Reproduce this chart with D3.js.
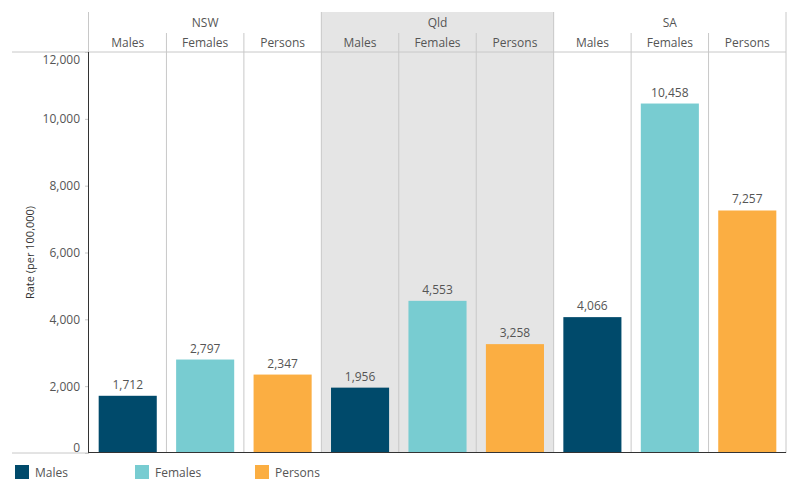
<!DOCTYPE html>
<html>
<head>
<meta charset="utf-8">
<script src="https://cdn.jsdelivr.net/npm/d3@7"></script>
<style>
  body { margin: 0; background: #fff; }
  text { font-family: "Open Sans", "Noto Sans", sans-serif; fill: #555; }
</style>
</head>
<body>
<div id="chart"></div>
<script>
var states  = ["NSW", "Qld", "SA"];
var groups  = ["Males", "Females", "Persons"];
var males   = [1712, 1956, 4066];
var females = [2797, 4553, 10458];
var persons = [2347, 3258, 7257];
var yTicks  = [0, 2000, 4000, 6000, 8000, 10000, 12000];

var W = 800, H = 500;
var left = 89, right = 786, plotTop = 52, plotBottom = 453;

var color = d3.scaleOrdinal()
    .domain(groups)
    .range(["#004a6b", "#78ccd1", "#fbae42"]);

var rows = [];
states.forEach(function (s, i) {
  rows.push({state: s, group: "Males",   value: males[i]});
  rows.push({state: s, group: "Females", value: females[i]});
  rows.push({state: s, group: "Persons", value: persons[i]});
});

var xState = d3.scaleBand().domain(states).range([left, right]);
var xGroup = d3.scaleBand().domain(groups).range([0, xState.bandwidth()]).paddingInner(0.25).paddingOuter(0.125);
var xCell  = d3.scaleBand().domain(groups).range([0, xState.bandwidth()]);

var y = d3.scaleLinear().domain([0, 12000]).range([plotBottom, plotTop]);

var svg = d3.select("#chart").append("svg")
    .attr("width", W).attr("height", H);

// Qld shading
svg.append("rect")
    .attr("x", xState("Qld")).attr("y", 12)
    .attr("width", xState.bandwidth()).attr("height", plotBottom - 12)
    .attr("fill", "#e5e5e5");

// column dividers
states.forEach(function (s) {
  groups.forEach(function (g, j) {
    if (j > 0) {
      svg.append("line")
          .attr("x1", xState(s) + xCell(g)).attr("x2", xState(s) + xCell(g))
          .attr("y1", 33).attr("y2", plotBottom)
          .attr("stroke", "#c8c8c8");
    }
  });
  svg.append("line")
      .attr("x1", xState(s) + xState.bandwidth()).attr("x2", xState(s) + xState.bandwidth())
      .attr("y1", 12).attr("y2", plotBottom)
      .attr("stroke", "#c8c8c8");
});
svg.append("line")
    .attr("x1", left - 0.5).attr("x2", left - 0.5)
    .attr("y1", 12).attr("y2", plotTop)
    .attr("stroke", "#c8c8c8");

// header lines
svg.append("line")
    .attr("x1", 12).attr("x2", right).attr("y1", plotTop).attr("y2", plotTop)
    .attr("stroke", "#c8c8c8");
svg.append("line")
    .attr("x1", 12).attr("x2", left).attr("y1", plotBottom).attr("y2", plotBottom)
    .attr("stroke", "#c8c8c8");

// header text
svg.selectAll("text.state").data(states).enter().append("text")
    .attr("class", "state")
    .attr("x", function (d) { return xState(d) + xState.bandwidth() / 2; })
    .attr("y", 27)
    .attr("text-anchor", "middle")
    .style("font-size", "12px")
    .text(function (d) { return d; });

states.forEach(function (s) {
  svg.selectAll(null).data(groups).enter().append("text")
      .attr("x", function (g) { return xState(s) + xCell(g) + xCell.bandwidth() / 2; })
      .attr("y", 47)
      .attr("text-anchor", "middle")
      .style("font-size", "12px")
      .text(function (g) { return g; });
});

// bars
svg.selectAll("rect.bar").data(rows).enter().append("rect")
    .attr("class", "bar")
    .attr("x", function (d) { return xState(d.state) + xGroup(d.group); })
    .attr("width", xGroup.bandwidth())
    .attr("y", function (d) { return y(d.value); })
    .attr("height", function (d) { return plotBottom - y(d.value); })
    .attr("fill", function (d) { return color(d.group); });

svg.selectAll("text.lbl").data(rows).enter().append("text")
    .attr("class", "lbl")
    .attr("x", function (d) { return xState(d.state) + xGroup(d.group) + xGroup.bandwidth() / 2; })
    .attr("y", function (d) { return y(d.value) - 7; })
    .attr("text-anchor", "middle")
    .style("font-size", "12px")
    .text(function (d) { return d3.format(",")(d.value); });

// y axis
var yAxis = svg.append("g")
    .attr("transform", "translate(" + left + ",0)")
    .call(d3.axisLeft(y).tickValues(yTicks).tickFormat(d3.format(",")).tickSize(4).tickPadding(5));
yAxis.select(".domain").remove();
yAxis.selectAll(".tick line").attr("stroke", "#c8c8c8");
yAxis.selectAll(".tick text")
    .style("font-size", "12px")
    .attr("fill", "#555")
    .attr("dy", function (d) { return d === 0 ? "-0.1em" : (d === 12000 ? "0.95em" : "0.32em"); });

svg.append("line")
    .attr("x1", left - 0.5).attr("x2", left - 0.5).attr("y1", plotTop).attr("y2", plotBottom)
    .attr("stroke", "#333");
svg.append("line")
    .attr("x1", left).attr("x2", right).attr("y1", plotBottom - 0.5).attr("y2", plotBottom - 0.5)
    .attr("stroke", "#333");

svg.append("text")
    .attr("transform", "translate(34," + (plotTop + plotBottom) / 2 + ") rotate(-90)")
    .attr("text-anchor", "middle")
    .style("font-size", "11px")
    .style("fill", "#333")
    .text("Rate (per 100,000)");

// legend
var legend = svg.selectAll("g.legend").data(groups).enter().append("g")
    .attr("class", "legend")
    .attr("transform", function (d, i) { return "translate(" + (15 + i * 120) + ",465)"; });
legend.append("rect")
    .attr("width", 14).attr("height", 14)
    .attr("fill", function (d) { return color(d); });
legend.append("text")
    .attr("x", 20).attr("y", 12)
    .style("font-size", "12px")
    .text(function (d) { return d; });
</script>
</body>
</html>
